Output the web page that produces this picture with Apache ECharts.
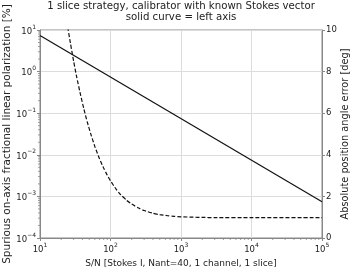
<!DOCTYPE html>
<html>
<head>
<meta charset="utf-8">
<script src="https://cdn.jsdelivr.net/npm/echarts@6/dist/echarts.min.js"></script>
<style>html,body{margin:0;padding:0;background:#fff}#c{width:357px;height:269px}</style>
</head>
<body>
<div id="c"></div>
<script>
// ---- data ----
const titleLines = ['1 slice strategy, calibrator with known Stokes vector', 'solid curve = left axis'];
const xName = 'S/N [Stokes I, Nant=40, 1 channel, 1 slice]';
const yLeftName = 'Spurious on-axis fractional linear polarization [%]';
const yRightName = 'Absolute position angle error [deg]';

const solidX = [10, 100000];
const solidY = [7.4, 0.00074];

const dashedX = [24, 25, 27, 30, 33, 37, 42, 47, 53, 60, 70, 80, 90, 100, 120, 140, 170, 200, 250, 300, 400, 500, 650, 800, 1000, 1500, 2000, 3000, 10000, 100000];
const dashedY = [10.42, 10.04, 9.37, 8.50, 7.77, 6.99, 6.19, 5.56, 4.96, 4.40, 3.80, 3.36, 3.02, 2.75, 2.35, 2.08, 1.81, 1.63, 1.44, 1.32, 1.19, 1.12, 1.07, 1.04, 1.02, 1.00, 0.99, 0.98, 0.98, 0.98];

const xMin = 10, xMax = 100000;
const yLeftMin = 0.0001, yLeftMax = 10;
const yRightMin = 0, yRightMax = 10, yRightStep = 2;

// minor tick positions (log axes)
const xMinorTicks = [];
for (let d = 10; d < xMax; d *= 10) for (let k = 2; k <= 9; k++) xMinorTicks.push(d * k);
const yMinorTicks = [];
for (let d = 0.0001; d < yLeftMax * 0.99; d *= 10) for (let k = 2; k <= 9; k++) yMinorTicks.push(d * k);

const font = 'DejaVu Sans';
const txt = '#222';
const axisCol = '#888';

function sup(v) {
  const e = Math.round(Math.log10(v));
  const s = e < 0 ? '\u2212' + Math.abs(e) : String(e);
  return '{b|10}{s|' + s + '}';
}
const rich = {
  b: { fontFamily: font, fontSize: 8.5, color: txt, lineHeight: 12, verticalAlign: 'bottom' },
  s: { fontFamily: font, fontSize: 6, color: txt, lineHeight: 12, verticalAlign: 'top', padding: [0, 0, 4, 0] }
};

const chart = echarts.init(document.getElementById('c'), null, { renderer: 'canvas' });

const option = {
  animation: false,
  backgroundColor: '#fff',
  title: {
    text: titleLines.join('\n'),
    left: 181, top: 1, padding: 0, textAlign: 'center',
    textStyle: { fontFamily: font, fontSize: 10.2, fontWeight: 'normal', color: txt, lineHeight: 11 }
  },
  grid: { left: 40, right: 35, top: 30, bottom: 31, outerBoundsMode: 'none', containLabel: false, show: true, borderColor: axisCol, borderWidth: 1 },
  xAxis: {
    type: 'log', logBase: 10, min: xMin, max: xMax,
    name: xName, nameLocation: 'middle', nameGap: 17,
    nameTextStyle: { fontFamily: font, fontSize: 9, color: txt },
    axisLine: { show: true, lineStyle: { color: axisCol } },
    axisTick: { show: true, length: 3, lineStyle: { color: axisCol } },
    axisLabel: { formatter: sup, rich: rich, margin: 4 },
    splitLine: { show: true, lineStyle: { color: '#dcdcdc', width: 1 } },
    minorTick: { show: false }
  },
  yAxis: [
    {
      type: 'log', logBase: 10, min: yLeftMin, max: yLeftMax,
      name: yLeftName, nameLocation: 'middle', nameGap: 27, nameMoveOverlap: false,
      nameTextStyle: { fontFamily: font, fontSize: 10.5, color: txt },
      axisLine: { show: true, lineStyle: { color: axisCol } },
      axisTick: { show: true, length: 3, lineStyle: { color: axisCol } },
      axisLabel: { formatter: sup, rich: rich, margin: 4 },
      splitLine: { show: true, lineStyle: { color: '#dcdcdc', width: 1 } }
    },
    {
      type: 'value', min: yRightMin, max: yRightMax, interval: yRightStep, position: 'right',
      name: yRightName, nameLocation: 'middle', nameGap: 18, nameRotate: 90, nameMoveOverlap: false,
      nameTextStyle: { fontFamily: font, fontSize: 9.8, color: txt },
      axisLine: { show: true, lineStyle: { color: axisCol } },
      axisTick: { show: true, length: 3, lineStyle: { color: axisCol } },
      axisLabel: { fontFamily: font, fontSize: 8.5, color: txt, margin: 4 },
      splitLine: { show: false }
    }
  ],
  series: [
    {
      type: 'line', yAxisIndex: 0, data: solidX.map((x, i) => [x, solidY[i]]),
      showSymbol: false, lineStyle: { color: '#111', width: 1.2 }, z: 5
    },
    {
      type: 'line', yAxisIndex: 1, data: dashedX.map((x, i) => [x, dashedY[i]]),
      showSymbol: false, smooth: 0.2, clip: true,
      lineStyle: { color: '#111', width: 1.2, type: [4, 2] }, z: 5
    },
    {
      type: 'custom', yAxisIndex: 0, clip: false, silent: true,
      data: xMinorTicks.map(x => [x, yLeftMin]),
      renderItem: function (params, api) {
        const p = api.coord([api.value(0), yLeftMin]);
        return { type: 'line', shape: { x1: p[0], y1: p[1], x2: p[0], y2: p[1] + 2 }, style: { stroke: axisCol, lineWidth: 0.8 } };
      }
    },
    {
      type: 'custom', yAxisIndex: 0, clip: false, silent: true,
      data: yMinorTicks.map(y => [xMin, y]),
      renderItem: function (params, api) {
        const p = api.coord([xMin, api.value(1)]);
        return { type: 'line', shape: { x1: p[0] - 2, y1: p[1], x2: p[0], y2: p[1] }, style: { stroke: axisCol, lineWidth: 0.8 } };
      }
    }
  ]
};
chart.setOption(option);
</script>
</body>
</html>
